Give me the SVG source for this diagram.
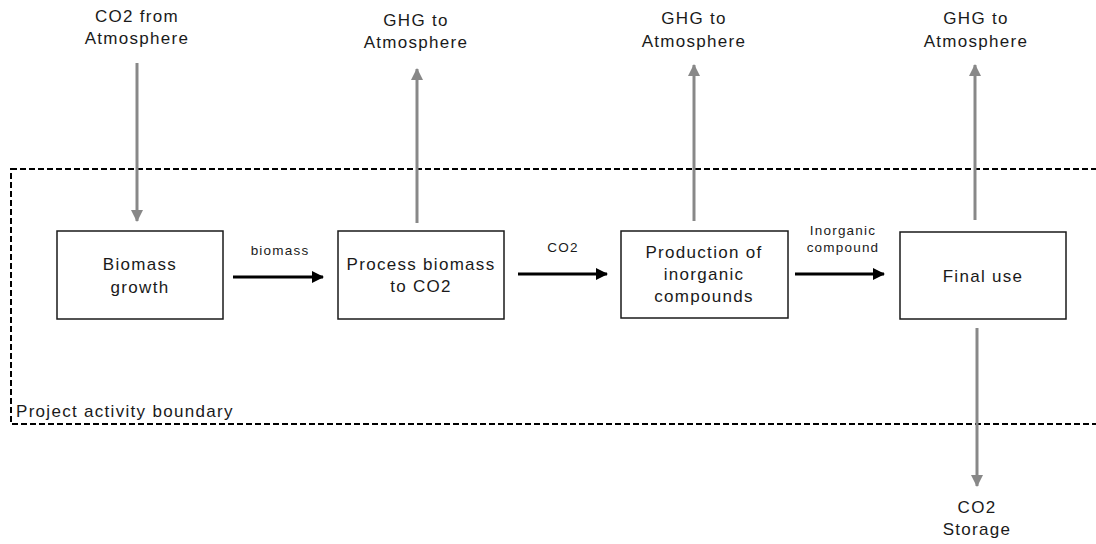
<svg xmlns="http://www.w3.org/2000/svg" width="1096" height="544" viewBox="0 0 1096 544">
<defs>
<style>
text{font-family:"Liberation Sans",Arial,sans-serif;fill:#1a1a1a;text-anchor:middle}
.big{font-size:17px;letter-spacing:1.3px}
.small{font-size:13.5px;letter-spacing:1.2px}
.box{fill:#fff;stroke:#1a1a1a;stroke-width:1.5}
.grey{stroke:#888;stroke-width:3;fill:none}
.black{stroke:#000;stroke-width:3;fill:none}
</style>
<marker id="gh" viewBox="0 0 12 12" refX="11" refY="6" markerWidth="12" markerHeight="12" markerUnits="userSpaceOnUse" orient="auto">
<path d="M0,0 L12,6 L0,12 z" fill="#888"/>
</marker>
<marker id="bh" viewBox="0 0 12 12" refX="11" refY="6" markerWidth="12" markerHeight="12" markerUnits="userSpaceOnUse" orient="auto">
<path d="M0,0 L12,6 L0,12 z" fill="#000"/>
</marker>
</defs>
<rect width="1096" height="544" fill="#fff"/>

<g id="boundary">
<rect x="11" y="169" width="1100" height="255" fill="none" stroke="#000" stroke-width="2" stroke-dasharray="6 3"/>
<text class="big" x="16" y="417" style="text-anchor:start">Project activity boundary</text>
</g>

<g id="connectors">
<line class="grey" x1="137" y1="63" x2="137" y2="221" marker-end="url(#gh)"/>
<line class="grey" x1="417" y1="223" x2="417" y2="69" marker-end="url(#gh)"/>
<line class="grey" x1="694" y1="221" x2="694" y2="65" marker-end="url(#gh)"/>
<line class="grey" x1="975" y1="220" x2="975" y2="65" marker-end="url(#gh)"/>
<line class="grey" x1="977" y1="328" x2="977" y2="486" marker-end="url(#gh)"/>
<line class="black" x1="233" y1="277" x2="323" y2="277" marker-end="url(#bh)"/>
<line class="black" x1="518" y1="274" x2="607" y2="274" marker-end="url(#bh)"/>
<line class="black" x1="795" y1="274" x2="884" y2="274" marker-end="url(#bh)"/>
<text class="small" x="280" y="255">biomass</text>
<text class="small" x="563" y="252">CO2</text>
<text class="small" x="843" y="235">Inorganic</text>
<text class="small" x="843" y="252">compound</text>
</g>

<g id="co2-from-atmosphere">
<text class="big" x="137" y="22">CO2 from</text>
<text class="big" x="137" y="44">Atmosphere</text>
</g>
<g id="ghg-1">
<text class="big" x="416" y="26">GHG to</text>
<text class="big" x="416" y="48">Atmosphere</text>
</g>
<g id="ghg-2">
<text class="big" x="694" y="24">GHG to</text>
<text class="big" x="694" y="47">Atmosphere</text>
</g>
<g id="ghg-3">
<text class="big" x="976" y="24">GHG to</text>
<text class="big" x="976" y="47">Atmosphere</text>
</g>
<g id="co2-storage">
<text class="big" x="977" y="513">CO2</text>
<text class="big" x="977" y="535">Storage</text>
</g>

<g id="biomass-growth">
<rect class="box" x="57" y="231" width="166" height="88"/>
<text class="big" x="140" y="270">Biomass</text>
<text class="big" x="140" y="293">growth</text>
</g>
<g id="process-biomass">
<rect class="box" x="338" y="231" width="166" height="88"/>
<text class="big" x="421" y="270">Process biomass</text>
<text class="big" x="421" y="292">to CO2</text>
</g>
<g id="production">
<rect class="box" x="621" y="231" width="167" height="87"/>
<text class="big" x="704" y="258">Production of</text>
<text class="big" x="704" y="280">inorganic</text>
<text class="big" x="704" y="302">compounds</text>
</g>
<g id="final-use">
<rect class="box" x="900" y="232" width="166" height="87"/>
<text class="big" x="983" y="282">Final use</text>
</g>
</svg>
